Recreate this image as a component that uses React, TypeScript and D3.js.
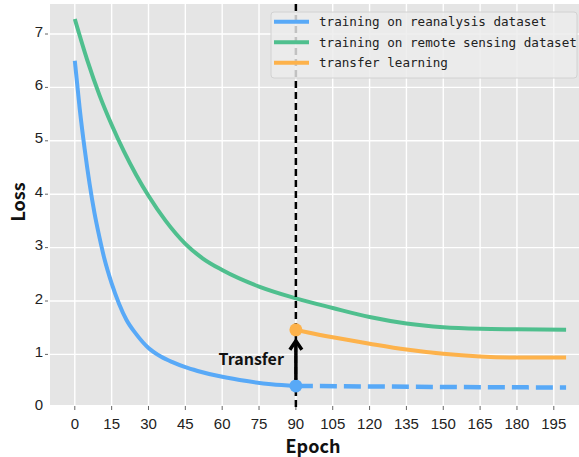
import React from "react";
import * as d3 from "d3";

const blueEpochs = [0, 2, 4, 6, 8, 10, 12, 15, 18, 21, 25, 30, 35, 40, 45, 50, 60, 70, 80, 90];
const blueLoss = [6.5, 5.6, 4.85, 4.2, 3.65, 3.2, 2.8, 2.33, 1.95, 1.65, 1.38, 1.12, 0.96, 0.85, 0.76, 0.69, 0.58, 0.5, 0.44, 0.41];

const blueDashEpochs = [90, 120, 150, 200];
const blueDashLoss = [0.41, 0.4, 0.39, 0.38];

const greenEpochs = [0, 5, 10, 15, 20, 25, 30, 37, 45, 52, 60, 75, 90, 105, 120, 135, 150, 165, 180, 200];
const greenLoss = [7.28, 6.52, 5.86, 5.3, 4.8, 4.36, 3.97, 3.5, 3.07, 2.8, 2.58, 2.27, 2.05, 1.87, 1.7, 1.58, 1.51, 1.48, 1.47, 1.46];

const orangeEpochs = [90, 95, 105, 120, 135, 150, 165, 180, 200];
const orangeLoss = [1.46, 1.41, 1.32, 1.2, 1.09, 1.01, 0.96, 0.94, 0.94];

const xTicks = [0, 15, 30, 45, 60, 75, 90, 105, 120, 135, 150, 165, 180, 195];
const yTicks = [0, 1, 2, 3, 4, 5, 6, 7];

const legendLabels = [
  "training on reanalysis dataset",
  "training on remote sensing dataset",
  "transfer learning",
];

const transferEpoch = 90;

const BLUE = "#58a9f7";
const GREEN = "#4fbf8e";
const ORANGE = "#fdb24b";

export default function App() {
  const W = 579;
  const H = 457;
  const left = 50;
  const right = 579;
  const top = 4;
  const bottom = 405;

  const x = d3.scaleLinear().domain([0, 195]).range([74.8, 553.8]);
  const y = d3.scaleLinear().domain([0, 7]).range([407.8, 34]);

  const mk = (xs: number[], ys: number[]) =>
    d3
      .line<number>()
      .x((_, i) => x(xs[i]))
      .y((d) => y(d))
      .curve(d3.curveMonotoneX)(ys) || "";

  const bluePath = mk(blueEpochs, blueLoss);
  const blueDashPath = mk(blueDashEpochs, blueDashLoss);
  const greenPath = mk(greenEpochs, greenLoss);
  const orangePath = mk(orangeEpochs, orangeLoss);

  const tx = x(transferEpoch);
  const yBlue = y(blueDashLoss[0]);
  const yOrange = y(orangeLoss[0]);

  const tickFont = "'Liberation Sans', Arial, sans-serif";
  const labelFont = "'Noto Sans CJK SC', 'Liberation Sans', Arial, sans-serif";

  return (
    <svg
      width={W}
      height={H}
      style={{ position: "absolute", left: 0, top: 0, background: "#fff" }}
    >
      <defs>
        <clipPath id="plotclip">
          <rect x={left} y={top} width={right - left} height={bottom - top} />
        </clipPath>
      </defs>
      <rect x={left} y={top} width={right - left} height={bottom - top} fill="#e5e5e5" />
      {/* grid */}
      {xTicks.map((t) => (
        <line key={"gx" + t} x1={x(t)} x2={x(t)} y1={top} y2={bottom} stroke="#fff" strokeWidth={1.4} />
      ))}
      {yTicks.map((t) =>
        y(t) < bottom ? (
          <line key={"gy" + t} x1={left} x2={right} y1={y(t)} y2={y(t)} stroke="#fff" strokeWidth={1.4} />
        ) : null
      )}
      {/* x ticks */}
      {xTicks.map((t) => (
        <g key={"xt" + t}>
          <line x1={x(t)} x2={x(t)} y1={bottom + 1} y2={bottom + 5} stroke="#666" strokeWidth={1} />
          <text
            x={x(t)}
            y={428.5}
            textAnchor="middle"
            fontFamily={tickFont}
            fontSize={15}
            fill="#222"
          >
            {t}
          </text>
        </g>
      ))}
      {/* y ticks */}
      {yTicks.map((t) => (
        <g key={"yt" + t}>
          {t > 0 && (
            <line x1={45} x2={48} y1={y(t)} y2={y(t)} stroke="#666" strokeWidth={1} />
          )}
          <text
            x={43}
            y={y(t) + 2.5}
            textAnchor="end"
            fontFamily={tickFont}
            fontSize={15}
            fill="#222"
          >
            {t}
          </text>
        </g>
      ))}
      {/* axis labels */}
      <text
        x={313}
        y={453}
        textAnchor="middle"
        fontFamily={labelFont}
        fontSize={18}
        fontWeight={600}
        fill="#111"
      >
        Epoch
      </text>
      <text
        transform="translate(25,202) rotate(-90)"
        textAnchor="middle"
        fontFamily={labelFont}
        fontSize={18}
        fontWeight={700}
        fill="#111"
      >
        Loss
      </text>

      <g clipPath="url(#plotclip)">
        <path d={greenPath} fill="none" stroke={GREEN} strokeWidth={4} />
        <path d={orangePath} fill="none" stroke={ORANGE} strokeWidth={4} />
        <path d={bluePath} fill="none" stroke={BLUE} strokeWidth={4} />
        <path d={blueDashPath} fill="none" stroke={BLUE} strokeWidth={4.5} strokeDasharray="17 7" />
      </g>

      {/* vertical dashed line */}
      <line x1={tx} x2={tx} y1={top} y2={bottom + 3} stroke="#000" strokeWidth={2.5} strokeDasharray="7 4" />

      {/* markers */}
      <circle cx={tx} cy={yOrange} r={6.5} fill={ORANGE} />
      <circle cx={tx} cy={yBlue} r={6.5} fill={BLUE} />

      {/* arrow */}
      <line x1={tx} x2={tx} y1={yBlue - 6} y2={yOrange + 12} stroke="#000" strokeWidth={3.5} />
      <path
        d={`M${tx - 6},${yOrange + 20} L${tx},${yOrange + 11} L${tx + 6},${yOrange + 20}`}
        fill="none"
        stroke="#000"
        strokeWidth={3.5}
        strokeLinejoin="miter"
      />
      <text
        x={tx - 12}
        y={365}
        textAnchor="end"
        fontFamily={labelFont}
        fontSize={16}
        fontWeight={700}
        fill="#111"
      >
        Transfer
      </text>

      {/* legend */}
      <rect x={271} y={12} width={306} height={66} rx={3} fill="#ebebeb" fillOpacity={0.82} stroke="#d2d2d2" strokeWidth={1} />
      {legendLabels.map((lab, i) => {
        const ly = 21.7 + i * 20.5;
        const c = [BLUE, GREEN, ORANGE][i];
        return (
          <g key={lab}>
            <line x1={274} x2={309} y1={ly} y2={ly} stroke={c} strokeWidth={4} />
            <text
              x={319}
              y={ly + 4.5}
              fontFamily="'DejaVu Sans Mono', 'Liberation Mono', monospace"
              fontSize={12.6}
              fill="#222"
            >
              {lab}
            </text>
          </g>
        );
      })}
    </svg>
  );
}
